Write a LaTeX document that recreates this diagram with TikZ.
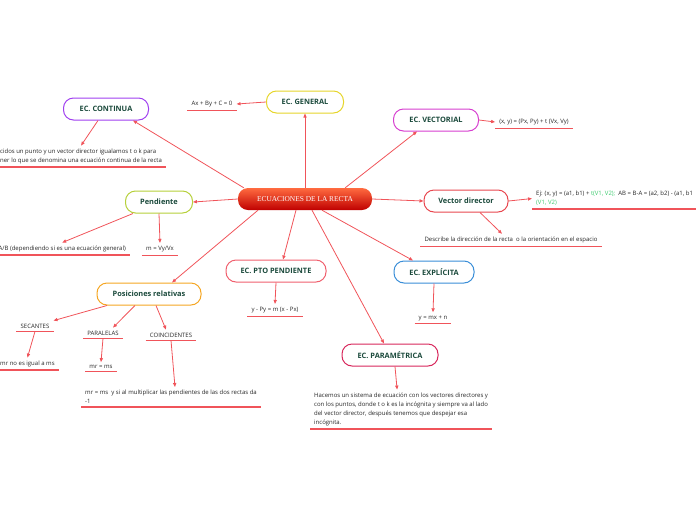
\documentclass[tikz,border=0pt]{standalone}
\usepackage{fontspec}
\setmainfont{Open Sans}
\newfontfamily\rootfont{Liberation Serif}
\usepackage{xcolor}
\usepackage{tikz}
\usetikzlibrary{arrows.meta,positioning}

\definecolor{linkred}{HTML}{F0545A}
\definecolor{txtgreen}{HTML}{1B4A3C}
\definecolor{txtgreenlt}{HTML}{3CCB6E}
\definecolor{cgen}{HTML}{E6D52A}
\definecolor{ccont}{HTML}{A040F0}
\definecolor{cvect}{HTML}{D73FD0}
\definecolor{cvdir}{HTML}{E8474F}
\definecolor{cexp}{HTML}{3A8ED8}
\definecolor{cpar}{HTML}{D8275C}
\definecolor{cpto}{HTML}{F0606E}
\definecolor{cpend}{HTML}{B6D03A}
\definecolor{cpos}{HTML}{F5A623}

\tikzset{
  root/.style={rounded corners=10pt, minimum width=134pt, minimum height=22pt,
    top color=red!55!orange!75!white, bottom color=red!75!black, draw=none,
    text=white, font=\rootfont\fontsize{7.4}{9}\selectfont},
  topic/.style={draw=#1, line width=1pt, rounded corners=10pt, fill=white,
    minimum height=22pt, text=txtgreen, font=\fontsize{7.4}{9}\selectfont\bfseries},
  leaf/.style={inner xsep=4pt, inner ysep=3pt, text=black!85,
    font=\fontsize{6}{9}\selectfont},
  link/.style={draw=linkred, line width=0.8pt, -{Triangle[length=4pt,width=3.2pt]}},
  uline/.style={draw=linkred, line width=1.1pt}
}

\begin{document}
\begin{tikzpicture}[x=1pt,y=-1pt]
  \useasboundingbox (0,0) rectangle (696,520);

  % central idea
  \node[root] (main) at (305,199) {ECUACIONES DE LA RECTA};

  % main topics
  \node[topic=cgen, minimum width=77pt] (general) at (305,102) {EC. GENERAL};
  \node[topic=ccont, minimum width=85pt] (continua) at (106,109) {EC. CONTINUA};
  \node[topic=cvect, minimum width=85pt] (vectorial) at (436,120) {EC. VECTORIAL};
  \node[topic=cvdir, minimum width=84pt] (vdir) at (466,201) {Vector director};
  \node[topic=cexp, minimum width=80pt] (explicita) at (434,272) {EC. EXPLÍCITA};
  \node[topic=cpar, minimum width=96pt] (param) at (390,355) {EC. PARAMÉTRICA};
  \node[topic=cpto, minimum width=100pt] (ptopend) at (276,271) {EC. PTO PENDIENTE};
  \node[topic=cpend, minimum width=67pt] (pend) at (159,202) {Pendiente};
  \node[topic=cpos, minimum width=104pt] (posic) at (149,294) {Posiciones relativas};

  % leaves
  \node[leaf] (ax) at (212,104) {Ax + By + C = 0};
  \node[leaf, anchor=south west, align=left] (cont) at (-4,167)
    {cidos un punto y un vector director igualamos t o k para\\
     ner lo que se denomina una ecuación continua de la recta};
  \node[leaf] (vecteq) at (534,122) {(x, y) = (Px, Py) + t (Vx, Vy)};
  \node[leaf, anchor=south west, align=left] (ej) at (532,209)
    {Ej: (x, y) = (a1, b1) + \textcolor{txtgreenlt}{t(V1, V2);}\ \ AB = B-A = (a2, b2) - (a1, b1\\
     \textcolor{txtgreenlt}{(V1, V2)}};
  \node[leaf] (desc) at (511,240) {Describe la dirección de la recta\ \ o la orientación en el espacio};
  \node[leaf] (yexp) at (433,318) {y = mx + n};
  \node[leaf, anchor=south west, align=left] (parameq) at (310,429)
    {Hacemos un sistema de ecuación con los vectores directores y\\
     con los puntos, donde t o k es la incógnita y siempre va al lado\\
     del vector director, después tenemos que despejar esa\\
     incógnita.};
  \node[leaf] (ptoeq) at (275,310) {y - Py = m (x - Px)};
  \node[leaf, anchor=south east] (pendA) at (130,255) {A/B (dependiendo si es una ecuación general)};
  \node[leaf] (pendV) at (160,249) {m = Vy/Vx};
  \node[leaf] (sec) at (35,326) {SECANTES};
  \node[leaf, anchor=south west] (secr) at (-4,370) {mr no es igual a ms};
  \node[leaf] (par) at (103,333) {PARALELAS};
  \node[leaf] (parr) at (101,367) {mr = ms};
  \node[leaf] (coin) at (171,335) {COINCIDENTES};
  \node[leaf, anchor=south west, align=left] (coinr) at (81,407)
    {mr = ms\ \ y si al multiplicar las pendientes de las dos rectas da\\ -1};

  \foreach \n in {ax,cont,vecteq,ej,desc,yexp,parameq,ptoeq,pendA,pendV,sec,secr,par,parr,coin,coinr}
    \draw[uline] (\n.south west) -- (\n.south east);

  % main -> topics
  \draw[link] (main.north) -- (general.south);
  \draw[link] ([xshift=6pt]main.north west) -- ([xshift=-16pt]continua.south east);
  \draw[link] ([xshift=-27pt]main.north east) -- ([xshift=-19pt]vectorial.south);
  \draw[link] (main.east) -- (vdir.west);
  \draw[link] ([xshift=17pt]main.south) -- ([xshift=-21pt]explicita.north);
  \draw[link] ([xshift=7pt]main.south) -- ([xshift=-6pt]param.north);
  \draw[link] ([xshift=-9pt]main.south) -- ([xshift=7pt]ptopend.north);
  \draw[link] (main.west) -- (pend.east);
  \draw[link] ([xshift=-47pt]main.south) -- ([xshift=23pt]posic.north);

  % topics -> leaves
  \draw[link] (general.west) -- (ax.east);
  \draw[link] ([xshift=-8pt]continua.south) -- (cont.north);
  \draw[link] (vectorial.east) -- (vecteq.west);
  \draw[link] (vdir.east) -- (ej.west);
  \draw[link] ([xshift=14pt]vdir.south) -- ([xshift=-9pt]desc.north);
  \draw[link] (explicita.south) -- (yexp.north);
  \draw[link] ([xshift=5pt]param.south) -- ([xshift=-4pt]parameq.north);
  \draw[link] (ptopend.south) -- (ptoeq.north);
  \draw[link] ([xshift=-26pt]pend.south) -- (pendA.north);
  \draw[link] (pend.south) -- (pendV.north);
  \draw[link] ([xshift=-42pt]posic.south) -- (sec.north east);
  \draw[link] ([xshift=-14pt]posic.south) -- ([xshift=10pt]par.north);
  \draw[link] ([xshift=7pt]posic.south) -- ([xshift=-5pt]coin.north);
  \draw[link] (sec.south) -- (secr.north);
  \draw[link] (par.south) -- (parr.north);
  \draw[link] (coin.south) -- ([xshift=4pt]coinr.north);
\end{tikzpicture}
\end{document}
